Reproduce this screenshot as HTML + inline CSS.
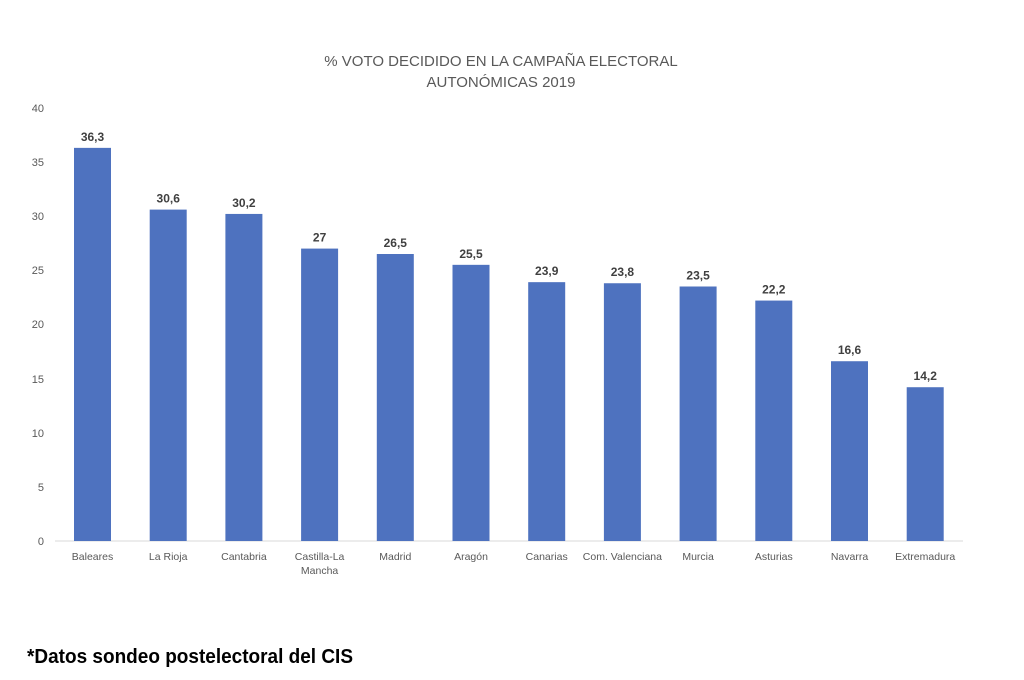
<!DOCTYPE html>
<html><head><meta charset="utf-8"><style>body{margin:0;background:#fff}svg{display:block}</style></head>
<body>
<svg width="1024" height="680" xmlns="http://www.w3.org/2000/svg" font-family="Liberation Sans, sans-serif">
<rect width="1024" height="680" fill="#fff"/>
<text x="501" y="66" text-anchor="middle" font-size="15" fill="#595959">% VOTO DECIDIDO EN LA CAMPAÑA ELECTORAL</text>
<text x="501" y="87" text-anchor="middle" font-size="15" fill="#595959">AUTONÓMICAS 2019</text>
<g font-size="11" fill="#595959" text-anchor="end">
<text x="44" y="112">40</text><text x="44" y="166">35</text><text x="44" y="220">30</text><text x="44" y="274">25</text><text x="44" y="328">20</text><text x="44" y="383">15</text><text x="44" y="437">10</text><text x="44" y="491">5</text><text x="44" y="545">0</text>
</g>
<line x1="55" y1="541" x2="963" y2="541" stroke="#d9d9d9" stroke-width="1"/>
<g fill="#4e72bf" id="bars"></g>
<g id="labels" font-size="10.5" fill="#595959" text-anchor="middle"></g>
<g id="vals" font-size="12" font-weight="bold" fill="#404040" text-anchor="middle"></g>
<text x="27" y="663" font-size="20" font-weight="bold" fill="#000" textLength="326" lengthAdjust="spacingAndGlyphs">*Datos sondeo postelectoral del CIS</text>
<script>
var d=[["Baleares",36.3,"36,3"],["La Rioja",30.6,"30,6"],["Cantabria",30.2,"30,2"],["Castilla-La|Mancha",27,"27"],["Madrid",26.5,"26,5"],["Aragón",25.5,"25,5"],["Canarias",23.9,"23,9"],["Com. Valenciana",23.8,"23,8"],["Murcia",23.5,"23,5"],["Asturias",22.2,"22,2"],["Navarra",16.6,"16,6"],["Extremadura",14.2,"14,2"]];
var ns="http://www.w3.org/2000/svg",b=document.getElementById("bars"),l=document.getElementById("labels"),v=document.getElementById("vals");
d.forEach(function(e,i){var cx=92.5+i*75.7,h=e[1]*10.83,y=541-h;
var r=document.createElementNS(ns,"rect");r.setAttribute("x",cx-18.5);r.setAttribute("y",y);r.setAttribute("width",37);r.setAttribute("height",h);b.appendChild(r);
var t=document.createElementNS(ns,"text");t.setAttribute("x",cx);t.setAttribute("y",y-7);t.textContent=e[2];v.appendChild(t);
e[0].split("|").forEach(function(s,j){var t2=document.createElementNS(ns,"text");t2.setAttribute("x",cx);t2.setAttribute("y",560+j*14);t2.textContent=s;l.appendChild(t2);});
});
</script>
</svg>
</body></html>
